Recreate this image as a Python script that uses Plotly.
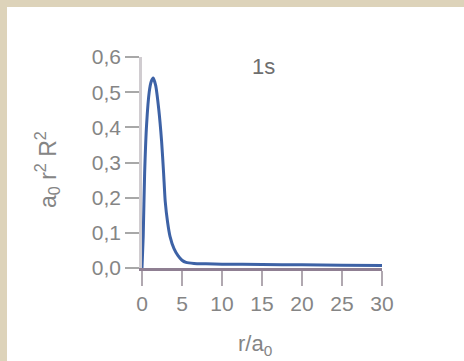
import plotly.graph_objects as go

# Radial distribution of the 1s orbital, read in units of a0
r_over_a0 = [0, 0.15, 0.33, 0.58, 0.9, 1.15, 1.4, 1.7, 2.1, 2.45, 2.7, 2.9,
             3.2, 3.5, 4.0, 4.5, 5.0, 5.5, 6.5, 8, 10, 15, 20, 25, 30]
a0_r2_R2 = [0, 0.09, 0.27, 0.41, 0.50, 0.53, 0.54, 0.52, 0.45, 0.36, 0.27, 0.19,
            0.13, 0.09, 0.055, 0.035, 0.022, 0.016, 0.013, 0.012, 0.011, 0.010,
            0.009, 0.008, 0.007]

x_ticks = [0, 5, 10, 15, 20, 25, 30]
y_ticks = [0.0, 0.1, 0.2, 0.3, 0.4, 0.5, 0.6]
orbital_label = "1s"

W, H = 464, 361
L, R, T, B = 142, 82, 57, 93
pw, ph = W - L - R, H - T - B


def px(x):
    return (x - L) / pw


def py(y):
    return (H - B - y) / ph


fig = go.Figure()
fig.add_trace(go.Scatter(
    x=r_over_a0, y=a0_r2_R2, mode="lines",
    line=dict(color="#3d62a6", width=3, shape="spline", smoothing=0.6),
    hoverinfo="skip", showlegend=False, cliponaxis=False,
))

family = "Liberation Sans, Arial, sans-serif"
font = dict(family=family, size=21, color="#858585")

fig.update_layout(
    width=W, height=H,
    margin=dict(l=L, r=R, t=T, b=B, pad=0),
    paper_bgcolor="#ffffff", plot_bgcolor="#ffffff",
    separators=",.",
    font=font,
    xaxis=dict(
        range=[0, 30], tickvals=x_ticks, ticks="outside", ticklen=15,
        tickwidth=2, tickcolor="#b0a8b0", showline=True, linewidth=2.5,
        linecolor="#8f7f92", showgrid=False, zeroline=False,
        tickfont=font, fixedrange=True,
    ),
    yaxis=dict(
        range=[0, 0.6], tickvals=y_ticks, tickformat=".1f", ticks="outside",
        ticklen=14, tickwidth=2, tickcolor="#a8a8a8", showline=True,
        linewidth=2.5, linecolor="#d0ccd0", showgrid=False, zeroline=False,
        tickfont=font, fixedrange=True,
    ),
    shapes=[
        # beige frame strips along the top and left edges
        dict(type="rect", xref="paper", yref="paper", layer="below",
             x0=px(0), x1=px(W), y0=py(0), y1=py(7),
             fillcolor="#ddd3ba", line_width=0),
        dict(type="rect", xref="paper", yref="paper", layer="below",
             x0=px(0), x1=px(7), y0=py(0), y1=py(H),
             fillcolor="#ddd3ba", line_width=0),
    ],
    annotations=[
        dict(text=orbital_label, xref="paper", yref="paper", x=px(263), y=py(66),
             xanchor="center", yanchor="middle", showarrow=False,
             font=dict(family=family, size=22, color="#6e6e6e")),
        dict(text="r/a<sub>0</sub>", xref="paper", yref="paper", x=px(255), y=py(345),
             xanchor="center", yanchor="middle", showarrow=False,
             font=dict(family=family, size=22, color="#858585")),
        dict(text="a<sub>0</sub> r<sup>2</sup> R<sup>2</sup>", xref="paper", yref="paper",
             x=px(47), y=py(170), xanchor="center", yanchor="middle",
             textangle=-90, showarrow=False,
             font=dict(family=family, size=23, color="#858585")),
    ],
)

fig.write_html("out.html")
